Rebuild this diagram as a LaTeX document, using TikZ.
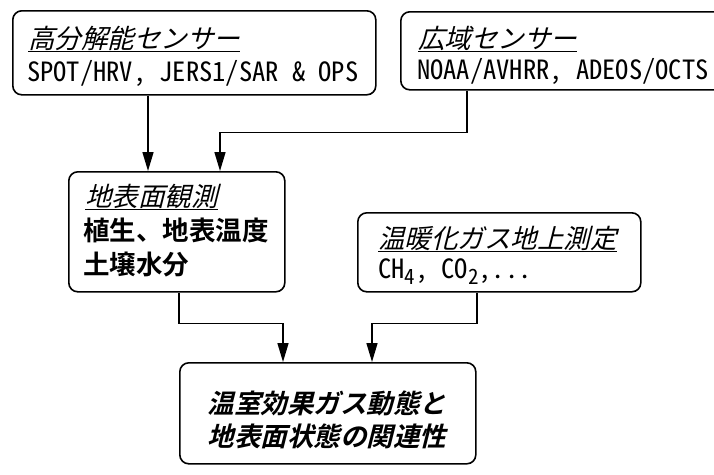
\documentclass[tikz,border=0pt]{standalone}
\usepackage{fontspec}
\setmainfont{Noto Sans CJK JP}
\newfontfamily\jp{Noto Sans CJK JP}[UprightFont=* Bold]
\newfontfamily\jpsl{Noto Sans CJK JP}[FakeSlant=0.25]
\newfontfamily\jpbsl{Noto Sans CJK JP}[UprightFont=* Bold, FakeSlant=0.25]
\newfontfamily\lat{Noto Sans CJK JP}[RawFeature=+hwid]
\usetikzlibrary{arrows.meta}
\newcommand{\sbs}[1]{\raisebox{-6pt}{\fontsize{21}{21}\selectfont #1}}
\begin{document}
\begin{tikzpicture}[x=1pt,y=-1pt,
  box/.style={draw, line width=1.6pt, rounded corners=9pt, anchor=north west, inner sep=0pt},
  arr/.style={line width=1.5pt, -{Triangle[length=19pt,width=11pt]}},
  txt/.style={anchor=base west, inner sep=0pt, font=\fontsize{26.5}{30}\selectfont},
  ctxt/.style={anchor=base, inner sep=0pt, font=\fontsize{26.5}{30}\selectfont}]
\useasboundingbox (0,0) rectangle (714,474);
\clip (0,0) rectangle (714,474);
\node[box, minimum width=363pt, minimum height=84pt] (b1) at (12,10) {};
\node[box, minimum width=340pt, minimum height=78pt] (b2) at (400,11) {};
\node[box, minimum width=216pt, minimum height=120pt] (b3) at (68,171) {};
\node[box, minimum width=283pt, minimum height=79pt] (b4) at (357,212) {};
\node[box, minimum width=296pt, minimum height=101pt] (b5) at (179,362) {};
% texts
\node[txt] (t1a) at (28,48) {\jpsl\underline{高分解能センサー}};
\node[txt] (t1b) at (27,81) {\lat SPOT/HRV, JERS1/SAR \& OPS};
\node[txt] (t2a) at (418,48) {\jpsl\underline{広域センサー}};
\node[txt] (t2b) at (417,79) {\lat NOAA/AVHRR, ADEOS/OCTS};
\node[txt] (t3a) at (85,206) {\jpsl\underline{地表面観測}};
\node[txt] (t3b) at (83,240) {\jp 植生、地表温度};
\node[txt] (t3c) at (83,274) {\jp 土壌水分};
\node[txt] (t4a) at (378,248) {\jpsl\underline{温暖化ガス地上測定}};
\node[txt] (t4b) at (378,278) {\lat CH\sbs{4}, CO\sbs{2},...};
\node[ctxt] (t5a) at (327,413) {\jpbsl 温室効果ガス動態と};
\node[ctxt] (t5b) at (327,446) {\jpbsl 地表面状態の関連性};
% connectors
\draw[arr] ([xshift=136pt]b1.south west) -- ([xshift=80pt]b3.north west);
\draw[arr] ([xshift=67pt]b2.south west) -- ++(0,42) -| ([xshift=152pt]b3.north west);
\draw[arr] ([xshift=111pt]b3.south west) -- ++(0,31) -| ([xshift=104pt]b5.north west);
\draw[arr] ([xshift=120pt]b4.south west) -- ++(0,31) -| ([xshift=193pt]b5.north west);
\end{tikzpicture}
\end{document}
